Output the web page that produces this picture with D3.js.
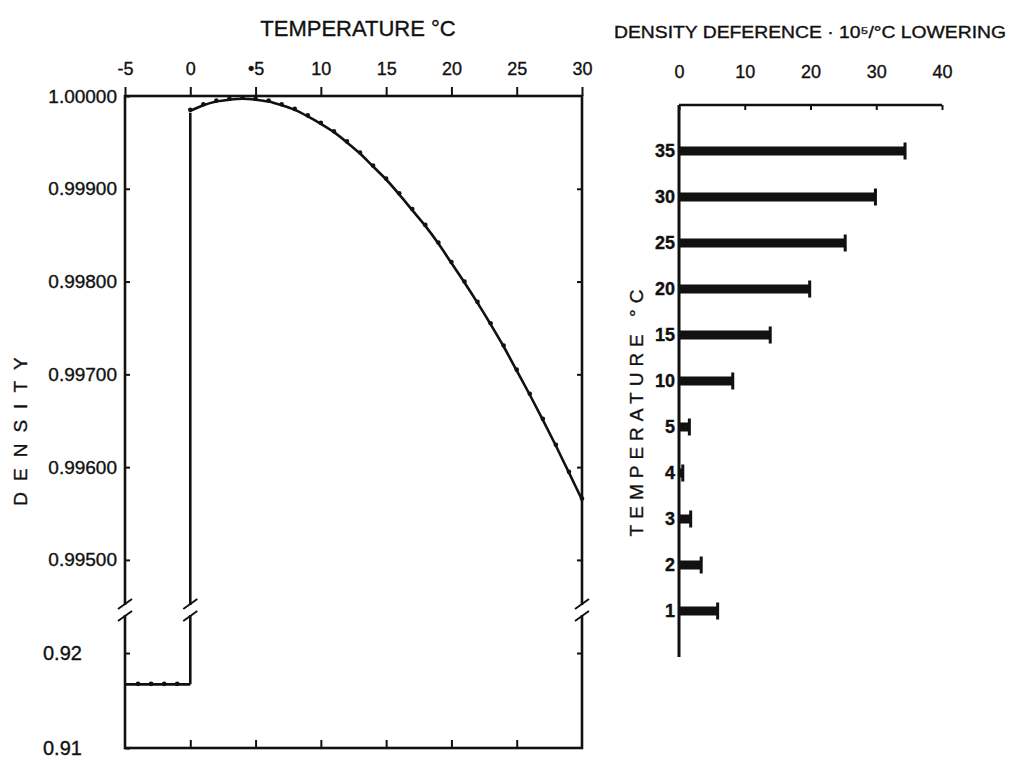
<!DOCTYPE html>
<html>
<head>
<meta charset="utf-8">
<script src="https://cdn.jsdelivr.net/npm/d3@7"></script>
<style>
  body { margin: 0; background: #fff; }
  svg { display: block; }
  text { font-family: "Liberation Sans", Arial, sans-serif; fill: #111; stroke: #111; stroke-width: 0.35px; }
</style>
</head>
<body>
<div id="chart"></div>
<script>
// Water density curve, 0..30 °C, one reading per degree
const waterTemps = [0, 1, 2, 3, 4, 5, 6, 7, 8, 9, 10, 11, 12, 13, 14, 15,
  16, 17, 18, 19, 20, 21, 22, 23, 24, 25, 26, 27, 28, 29, 30];
const waterDensity = [0.99984, 0.99990, 0.99994, 0.99996, 0.99997, 0.99996,
  0.99994, 0.99990, 0.99985, 0.99978, 0.99970, 0.99961, 0.99950, 0.99938,
  0.99924, 0.99910, 0.99894, 0.99877, 0.99860, 0.99841, 0.99820, 0.99799,
  0.99777, 0.99754, 0.99730, 0.99704, 0.99678, 0.99651, 0.99623, 0.99594,
  0.99565];

// Ice, -5..0 °C
const iceTemps = [-5, -4, -3, -2, -1, 0];
const iceDensity = [0.9167, 0.9167, 0.9167, 0.9167, 0.9167, 0.9167];

// Axis ticks of the left chart
const tempTicks = [-5, 0, 5, 10, 15, 20, 25, 30];
const tempTickLabels = ["-5", "0", "•5", "10", "15", "20", "25", "30"];
const upperTicks = [0.995, 0.996, 0.997, 0.998, 0.999, 1.0];
const lowerTicks = [0.91, 0.92];

// Right chart: density difference (x10^5 per °C lowering)
const barTemps = ["35", "30", "25", "20", "15", "10", "5", "4", "3", "2", "1"];
const barValues = [34.3, 29.8, 25.2, 19.8, 13.8, 8.1, 1.5, 0.5, 1.7, 3.3, 5.8];
const diffTicks = [0, 10, 20, 30, 40];

const W = 1018, H = 761;
const ink = "#111";

const svg = d3.select("#chart")
  .append("svg")
  .attr("width", W)
  .attr("height", H);

// ---------- left chart ----------
const pLeft = 125, pRight = 582, pTop = 96, pBottom = 748, yBreak = 610;

const x = d3.scaleLinear().domain([-5, 30]).range([pLeft, pRight]);
// broken density axis: upper part for water, lower part for ice
const yHi = d3.scaleLinear().domain([0.99446, 1.0]).range([yBreak, pTop]);
const yLo = d3.scaleLinear().domain([0.91, 0.92453]).range([pBottom, yBreak]);

// frame
svg.append("rect")
  .attr("x", pLeft)
  .attr("y", pTop)
  .attr("width", pRight - pLeft)
  .attr("height", pBottom - pTop)
  .attr("fill", "none")
  .attr("stroke", ink)
  .attr("stroke-width", 2.6);

// top axis with labels
const topAxis = svg.append("g")
  .attr("transform", `translate(0,${pTop})`)
  .call(d3.axisTop(x)
    .tickValues(tempTicks)
    .tickSize(9)
    .tickPadding(12)
    .tickFormat((d, i) => tempTickLabels[i]));
topAxis.select(".domain").remove();
topAxis.selectAll("line").attr("stroke", ink).attr("stroke-width", 2);
topAxis.selectAll("text")
  .style("font-size", "18px")
  .style("font-family", "'Liberation Sans Narrow', 'Liberation Sans', sans-serif");

// bottom ticks pointing inward
const botAxis = svg.append("g")
  .attr("transform", `translate(0,${pBottom})`)
  .call(d3.axisBottom(x).tickValues(tempTicks.slice(1, -1)).tickSize(-8).tickFormat(""));
botAxis.select(".domain").remove();
botAxis.selectAll("line").attr("stroke", ink).attr("stroke-width", 2);

// left axis, upper part
const leftHi = svg.append("g")
  .attr("transform", `translate(${pLeft},0)`)
  .call(d3.axisLeft(yHi)
    .tickValues(upperTicks)
    .tickSize(-5)
    .tickPadding(8)
    .tickFormat(d3.format(".5f")));
leftHi.select(".domain").remove();
leftHi.selectAll("line").attr("stroke", ink).attr("stroke-width", 2);
leftHi.selectAll("text").style("font-size", "19px");

// left axis, lower part (labels are left aligned in the original)
const leftLo = svg.append("g")
  .attr("transform", `translate(${pLeft},0)`)
  .call(d3.axisLeft(yLo)
    .tickValues(lowerTicks)
    .tickSize(-5)
    .tickFormat(d3.format(".2f")));
leftLo.select(".domain").remove();
leftLo.selectAll("line").attr("stroke", ink).attr("stroke-width", 2);
leftLo.selectAll("text")
  .attr("text-anchor", "start")
  .attr("x", 43 - pLeft)
  .style("font-size", "20px");

// right side ticks
[[yHi, upperTicks.slice(0, -1)], [yLo, lowerTicks.slice(1)]].forEach(([sc, tv]) => {
  const g = svg.append("g")
    .attr("transform", `translate(${pRight},0)`)
    .call(d3.axisRight(sc).tickValues(tv).tickSize(-5).tickFormat(""));
  g.select(".domain").remove();
  g.selectAll("line").attr("stroke", ink).attr("stroke-width", 2);
});

// ice line
svg.append("path")
  .datum(iceTemps.map((t, i) => [t, iceDensity[i]]))
  .attr("fill", "none")
  .attr("stroke", ink)
  .attr("stroke-width", 2.6)
  .attr("d", d3.line().x((d) => x(d[0])).y((d) => yLo(d[1])));

svg.selectAll(".ice-dot")
  .data(iceTemps.slice(1, -1))
  .enter()
  .append("circle")
  .attr("class", "ice-dot")
  .attr("cx", (d) => x(d))
  .attr("cy", (d, i) => yLo(iceDensity[i + 1]) - 0.5)
  .attr("r", 2.4)
  .attr("fill", ink);

// melting step at 0 °C
svg.append("line")
  .attr("x1", x(0))
  .attr("x2", x(0))
  .attr("y1", yLo(iceDensity[iceDensity.length - 1]))
  .attr("y2", yHi(waterDensity[0]) + 2)
  .attr("stroke", ink)
  .attr("stroke-width", 2.6);

// water curve
svg.append("path")
  .datum(waterTemps.map((t, i) => [t, waterDensity[i]]))
  .attr("fill", "none")
  .attr("stroke", ink)
  .attr("stroke-width", 2.6)
  .attr("d", d3.line().curve(d3.curveMonotoneX).x((d) => x(d[0])).y((d) => yHi(d[1])));

svg.selectAll(".water-dot")
  .data(waterTemps)
  .enter()
  .append("circle")
  .attr("class", "water-dot")
  .attr("cx", (d) => x(d))
  .attr("cy", (d, i) => yHi(waterDensity[i]) - 1)
  .attr("r", 2.3)
  .attr("fill", ink);

// axis break marks
[x(-5), x(0), x(30)].forEach((cx) => {
  svg.append("rect")
    .attr("x", cx - 4)
    .attr("y", yBreak - 5)
    .attr("width", 8)
    .attr("height", 10)
    .attr("fill", "#fff");
  [yBreak - 6, yBreak + 6].forEach((cy) => {
    svg.append("line")
      .attr("x1", cx - 7)
      .attr("y1", cy + 5)
      .attr("x2", cx + 7)
      .attr("y2", cy - 5)
      .attr("stroke", ink)
      .attr("stroke-width", 2);
  });
});

// titles
svg.append("text")
  .attr("x", 358)
  .attr("y", 36)
  .attr("text-anchor", "middle")
  .style("font-size", "22px")
  .text("TEMPERATURE °C");

svg.append("text")
  .attr("transform", "translate(27,426) rotate(-90)")
  .attr("text-anchor", "middle")
  .style("font-size", "19px")
  .style("letter-spacing", "11px")
  .text("DENSITY");

// ---------- right chart ----------
const xb = d3.scaleLinear().domain([0, 40]).range([679, 942]);
const yb = d3.scalePoint().domain(barTemps).range([105, 657]).padding(1);

// top axis
const bTop = svg.append("g")
  .attr("transform", "translate(0,105)")
  .call(d3.axisTop(xb).tickValues(diffTicks).tickSize(-5).tickPadding(27));
bTop.select(".domain").remove();
bTop.selectAll("line").attr("stroke", ink).attr("stroke-width", 2);
bTop.selectAll("text")
  .style("font-size", "18px")
  .style("font-family", "'Liberation Sans Narrow', 'Liberation Sans', sans-serif");

svg.append("line")
  .attr("x1", xb(0))
  .attr("x2", xb(40))
  .attr("y1", 105)
  .attr("y2", 105)
  .attr("stroke", ink)
  .attr("stroke-width", 2.6);

// left axis
const bLeft = svg.append("g")
  .attr("transform", `translate(${xb(0)},0)`)
  .call(d3.axisLeft(yb).tickSize(0).tickPadding(4));
bLeft.select(".domain").remove();
bLeft.selectAll("text")
  .style("font-size", "18px")
  .style("font-weight", "bold");

svg.append("line")
  .attr("x1", xb(0))
  .attr("x2", xb(0))
  .attr("y1", 105)
  .attr("y2", 657)
  .attr("stroke", ink)
  .attr("stroke-width", 3);

// bars with end caps
svg.selectAll(".bar")
  .data(barTemps)
  .enter()
  .append("rect")
  .attr("class", "bar")
  .attr("x", xb(0))
  .attr("y", (d) => yb(d) - 4.5)
  .attr("width", (d, i) => xb(barValues[i]) - xb(0))
  .attr("height", 9)
  .attr("fill", ink);

svg.selectAll(".cap")
  .data(barTemps)
  .enter()
  .append("rect")
  .attr("class", "cap")
  .attr("x", (d, i) => xb(barValues[i]) - 1)
  .attr("y", (d) => yb(d) - 8.5)
  .attr("width", 3)
  .attr("height", 17)
  .attr("fill", ink);

// titles
svg.append("text")
  .attr("x", 810)
  .attr("y", 38)
  .attr("text-anchor", "middle")
  .attr("textLength", 392)
  .attr("lengthAdjust", "spacingAndGlyphs")
  .style("font-size", "16px")
  .text("DENSITY DEFERENCE · 10⁵/°C LOWERING");

svg.append("text")
  .attr("transform", "translate(643,410) rotate(-90)")
  .attr("text-anchor", "middle")
  .style("font-size", "19px")
  .style("letter-spacing", "6px")
  .text("TEMPERATURE °C");
</script>
</body>
</html>
